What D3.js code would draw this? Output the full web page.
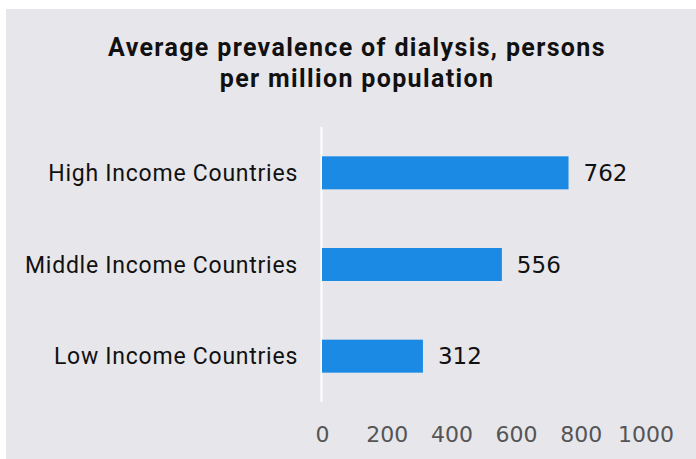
<!DOCTYPE html>
<html>
<head>
<meta charset="utf-8">
<script src="https://cdn.jsdelivr.net/npm/d3@7"></script>
<style>
  body { margin: 0; background: #fff; }
</style>
</head>
<body>
<svg id="chart"></svg>
<script>
  const titleLines = ["Average prevalence of dialysis, persons", "per million population"];
  const categories = ["High Income Countries", "Middle Income Countries", "Low Income Countries"];
  const values = [762, 556, 312];
  const tickValues = [0, 200, 400, 600, 800, 1000];

  const width = 696;
  const height = 459;

  const svg = d3.select("#chart")
    .attr("width", width)
    .attr("height", height);

  // panel background
  svg.append("rect")
    .attr("x", 6)
    .attr("y", 9)
    .attr("width", width - 6)
    .attr("height", height - 9)
    .attr("fill", "#e7e6eb");

  // title
  svg.append("g")
    .selectAll("text")
    .data(titleLines)
    .join("text")
      .attr("x", 357)
      .attr("y", (d, i) => 56 + i * 31)
      .attr("text-anchor", "middle")
      .style("font-family", "Roboto, sans-serif")
      .style("font-weight", "bold")
      .style("font-size", "25px")
      .style("letter-spacing", "1.35px")
      .style("fill", "#111")
      .text(d => d);

  const x = d3.scaleLinear()
    .domain([0, 1000])
    .range([322, 645.5]);

  const y = d3.scaleBand()
    .domain(categories)
    .range([127, 402])
    .paddingInner(0.64)
    .paddingOuter(0.32);

  // vertical axis line
  svg.append("line")
    .attr("x1", x(0) - 0.5)
    .attr("x2", x(0) - 0.5)
    .attr("y1", 127)
    .attr("y2", 402)
    .attr("stroke", "#fff")
    .attr("stroke-width", 2);

  // bars
  svg.append("g")
    .selectAll("rect")
    .data(values)
    .join("rect")
      .attr("x", x(0))
      .attr("y", (d, i) => y(categories[i]))
      .attr("width", d => x(d) - x(0))
      .attr("height", y.bandwidth())
      .attr("fill", "#1a8ae4");

  // value labels
  svg.append("g")
    .selectAll("text")
    .data(values)
    .join("text")
      .attr("x", d => x(d) + 15)
      .attr("y", (d, i) => y(categories[i]) + y.bandwidth() / 2)
      .attr("dy", "0.36em")
      .style("font-family", "'DejaVu Sans', Verdana, sans-serif")
      .style("font-size", "23px")
      .style("fill", "#111")
      .text(d => d);

  // category labels
  svg.append("g")
    .selectAll("text")
    .data(categories)
    .join("text")
      .attr("x", 298)
      .attr("y", d => y(d) + y.bandwidth() / 2)
      .attr("dy", "0.36em")
      .attr("text-anchor", "end")
      .style("font-family", "Roboto, sans-serif")
      .style("font-size", "23px")
      .style("letter-spacing", "0.75px")
      .style("fill", "#111")
      .text(d => d);

  // x axis tick labels
  const xAxis = svg.append("g")
    .attr("transform", "translate(0,426)")
    .call(d3.axisBottom(x).tickValues(tickValues).tickFormat(d3.format("d")).tickSize(0).tickPadding(0));
  xAxis.select(".domain").remove();
  xAxis.selectAll("text")
    .attr("dy", "0.36em")
    .attr("y", 8)
    .style("font-family", "'DejaVu Sans', Verdana, sans-serif")
    .style("font-size", "22px")
    .style("fill", "#555");
</script>
</body>
</html>
